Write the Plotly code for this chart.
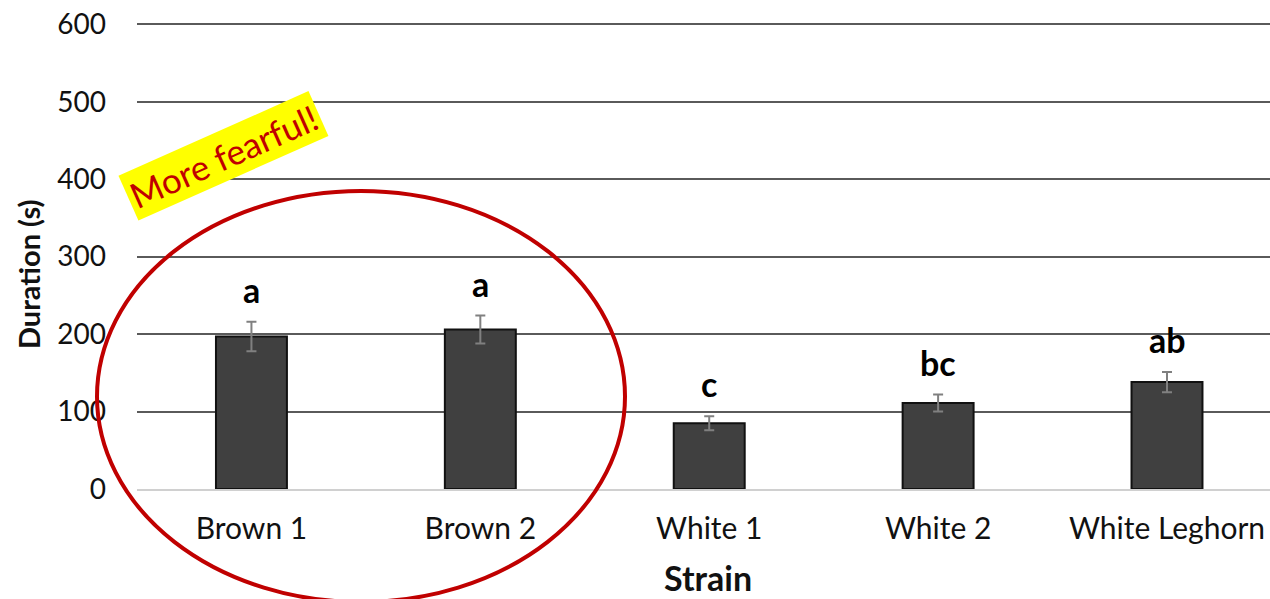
import plotly.graph_objects as go

# Tonic immobility duration by laying-hen strain
strains = ["Brown 1", "Brown 2", "White 1", "White 2", "White Leghorn"]
duration = [197, 206, 85, 111, 138]
sem = [19, 18, 9, 11, 13]
letters = ["a", "a", "c", "bc", "ab"]
y_ticks = [0, 100, 200, 300, 400, 500, 600]

FONT = "Lato"
W, H = 1270, 599
L, R, T, B = 137, 0, 22, 110
pw, ph = W - L - R, H - T - B


def px_to_paper(x, y):
    return (x - L) / pw, (H - B - y) / ph


fig = go.Figure()
fig.add_trace(go.Bar(
    x=list(range(len(strains))), y=duration,
    width=0.31,
    marker=dict(color="#404040", line=dict(color="#111111", width=2)),
    error_y=dict(type="data", array=sem, color="#808080", thickness=2, width=5),
    showlegend=False,
))

# Significance letters above each bar
for i, (v, e, s) in enumerate(zip(duration, sem, letters)):
    fig.add_annotation(
        x=i, y=v + e, text=f"<b>{s}</b>", showarrow=False,
        xanchor="center", yanchor="bottom", yshift=10,
        font=dict(family=FONT, size=34, color="black"),
    )

# Red ellipse around the brown strains
ex0, ey1 = px_to_paper(97, 191)
ex1, ey0 = px_to_paper(625, 602)
fig.add_shape(type="circle", xref="paper", yref="paper",
              x0=ex0, x1=ex1, y0=ey0, y1=ey1,
              line=dict(color="#C00000", width=4))

# Highlight label
lx, ly = px_to_paper(223, 156)
fig.add_annotation(
    xref="paper", yref="paper", x=lx, y=ly, text="More fearful!",
    showarrow=False, textangle=-24, bgcolor="#FFFF00",
    font=dict(family=FONT, size=35, color="#C00000"),
    borderpad=3, xanchor="center", yanchor="middle",
)

# Axis titles
tx, ty = px_to_paper(28, 274)
fig.add_annotation(
    xref="paper", yref="paper", x=tx, y=ty, text="<b>Duration (s)</b>",
    showarrow=False, textangle=-90, xanchor="center", yanchor="middle",
    font=dict(family=FONT, size=29, color="#111111"),
)
sx, sy = px_to_paper(708, 577)
fig.add_annotation(
    xref="paper", yref="paper", x=sx, y=sy, text="<b>Strain</b>",
    showarrow=False, xanchor="center", yanchor="middle",
    font=dict(family=FONT, size=34, color="#111111"),
)

fig.update_layout(
    width=W, height=H,
    margin=dict(l=L, r=R, t=T, b=B, pad=0),
    plot_bgcolor="white", paper_bgcolor="white",
    font=dict(family=FONT, size=28, color="#111111"),
    xaxis=dict(
        tickmode="array", tickvals=list(range(len(strains))), ticktext=strains,
        range=[-0.5, 4.45], showgrid=False, zeroline=False,
        showline=True, linecolor="#d0d0d0", linewidth=2,
        ticks="", ticklabelstandoff=12,
        tickfont=dict(family=FONT, size=30, color="#111111"),
    ),
    yaxis=dict(
        range=[0, 603], tickvals=y_ticks,
        showgrid=True, gridcolor="#5a5a5a", gridwidth=2,
        zeroline=False, showline=False, ticks="",
        ticklabelstandoff=30,
        tickfont=dict(family=FONT, size=28, color="#111111"),
    ),
)

fig.write_html("out.html")
